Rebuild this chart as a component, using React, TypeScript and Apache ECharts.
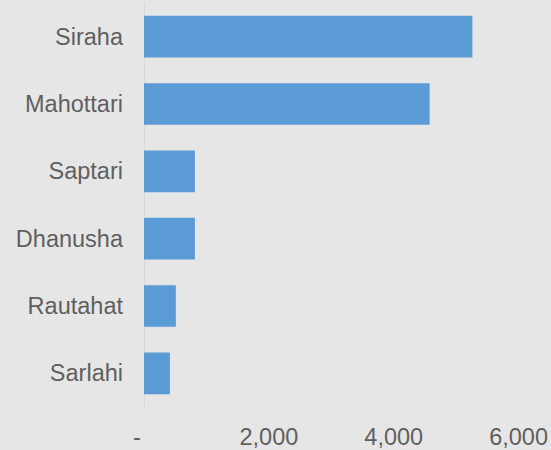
import React, { useEffect, useRef } from "react";
import * as echarts from "echarts";

const categories = ["Siraha", "Mahottari", "Saptari", "Dhanusha", "Rautahat", "Sarlahi"];
const values = [5260, 4575, 815, 815, 510, 415];
const xTicks = [0, 2000, 4000, 6000];

const FONT = "'Liberation Sans', Arial, sans-serif";

export default function App() {
  const ref = useRef<HTMLDivElement>(null);
  useEffect(() => {
    if (!ref.current) return;
    const chart = echarts.init(ref.current, null, { renderer: "svg" });
    chart.setOption({
      animation: false,
      backgroundColor: "#e7e6e6",
      grid: { left: 144, right: 32, top: 3, bottom: 43, containLabel: false },
      xAxis: {
        type: "value",
        min: xTicks[0],
        max: xTicks[xTicks.length - 1],
        interval: xTicks[1] - xTicks[0],
        axisLine: { show: false },
        axisTick: { show: false },
        splitLine: { show: false },
        axisLabel: {
          margin: 18,
          color: "#5f5f5f",
          fontFamily: FONT,
          fontSize: 23.5,
          formatter: (v: number) => (v === 0 ? "{d|-}" : v.toLocaleString("en-US")),
          rich: {
            d: {
              color: "#5f5f5f",
              fontFamily: FONT,
              fontSize: 23.5,
              padding: [0, 14, 0, 0],
            },
          },
        },
      },
      yAxis: {
        type: "category",
        data: categories,
        inverse: true,
        axisLine: { show: true, lineStyle: { color: "#d9d9d9", width: 1 } },
        axisTick: { show: false },
        axisLabel: {
          margin: 21,
          color: "#5f5f5f",
          fontFamily: FONT,
          fontSize: 23.5,
        },
      },
      series: [
        {
          type: "bar",
          data: values,
          barCategoryGap: "38%",
          itemStyle: { color: "#5b9bd5" },
        },
      ],
    });
    return () => chart.dispose();
  }, []);
  return (
    <div
      ref={ref}
      style={{ position: "fixed", left: 0, top: 0, width: 551, height: 450 }}
    />
  );
}
